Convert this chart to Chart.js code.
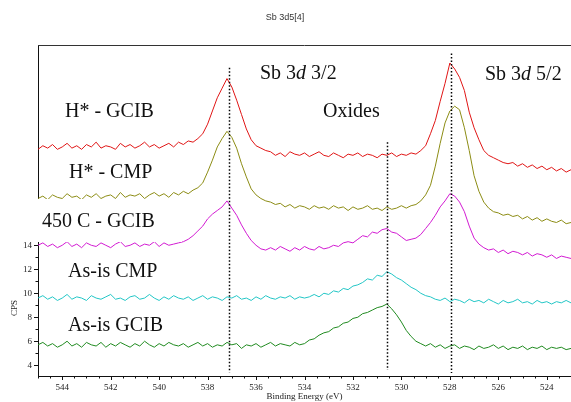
<!DOCTYPE html>
<html lang="en">
<head>
<meta charset="UTF-8">
<title>Sb 3d5[4]</title>
<script src="https://cdn.jsdelivr.net/npm/chart.js"></script>
<style>
  html, body { margin: 0; padding: 0; background: #fff; }
  canvas { display: block; }
</style>
</head>
<body>
<canvas id="xps" width="571" height="402"></canvas>
<script>
// binding energy grid (eV), 545 -> 523 in 0.2 eV steps
const energyStart = 545, energyStep = 0.2, nPoints = 111;
const energies = Array.from({ length: nPoints }, (_, i) => +(energyStart - energyStep * i).toFixed(1));

// counts (CPS, offset stacked as plotted)
const hGcib = [
  22.0, 22.3, 22.1, 22.4, 22.0, 22.2, 22.5, 22.1, 22.3, 22.0,
  22.4, 22.2, 22.6, 22.1, 22.3, 22.2, 22.0, 22.5, 22.2, 22.4,
  22.1, 22.3, 22.6, 22.2, 22.4, 22.1, 22.3, 22.5, 22.2, 22.6,
  22.4, 22.7, 22.6,
  22.9, 23.3, 24.1, 25.2, 26.3, 27.1, 27.9, 27.2, 26.1, 24.9, 23.7, 22.8, 22.3, 22.1, 21.9,
  21.8, 21.5, 21.7, 21.4, 21.8, 21.6, 21.5, 21.7, 21.4, 21.6, 21.8, 21.5, 21.4, 21.7,
  21.5, 21.3, 21.6, 21.5, 21.7, 21.4, 21.6, 21.5, 21.3, 21.6, 21.5, 21.7, 21.4, 21.6,
  21.5, 21.7, 21.6, 21.9, 22.3, 23.3, 24.4, 26.0, 27.5, 29.2, 28.7, 28.0, 26.9, 25.1,
  23.8, 22.8, 21.9, 21.5, 21.3, 21.1, 20.9, 20.8,
  20.9, 20.6, 20.8, 20.5, 20.7, 20.4, 20.6, 20.3, 20.5, 20.2, 20.4, 20.1, 20.3
];
const hCmp = [
  17.9, 18.1, 17.8, 18.2, 18.0, 17.9, 18.3, 18.0, 18.1, 17.8,
  18.2, 18.0, 18.3, 17.9, 18.1, 18.2, 17.9, 18.4, 18.0, 18.2,
  18.1, 18.3, 17.9, 18.2, 18.4, 18.1, 18.3, 18.0, 18.4, 18.2,
  18.5, 18.3, 18.6,
  18.8, 19.2, 20.1, 21.1, 22.2, 22.9, 23.5, 23.0, 22.1, 20.8, 19.7, 18.7, 18.2, 17.9, 17.7,
  17.6, 17.4, 17.5, 17.2, 17.4, 17.1, 17.3, 17.2, 17.0, 17.3, 17.1, 17.2, 17.0, 17.3,
  17.1, 17.2, 16.9, 17.2, 17.0, 17.1, 17.3, 17.0, 17.1, 16.9, 17.2, 17.0, 17.1, 17.3,
  17.1, 17.3, 17.4,
  17.7, 18.2, 19.0, 20.6, 22.5, 24.2, 25.2, 25.6, 25.3, 23.8, 21.9, 19.8, 18.5, 17.6, 17.1, 16.8,
  16.7, 16.5, 16.6, 16.4, 16.5, 16.2, 16.4, 16.1, 16.3, 16.0, 16.2, 16.0, 15.9, 16.1, 15.8, 15.9
];
const annealGcib = [
  14.0, 14.2, 13.9, 14.1, 13.8, 14.0, 14.3, 13.9, 14.1, 13.8,
  14.2, 14.0, 13.9, 14.2, 14.0, 13.8, 14.1, 14.3, 13.9, 14.0,
  14.2, 13.9, 14.1, 14.0, 14.3, 13.9, 14.2, 14.0, 14.1, 14.2,
  14.3, 14.5, 14.8, 15.2, 15.6, 16.2, 16.6, 16.9, 17.2, 17.7, 17.1, 16.5, 15.7, 15.0, 14.4, 14.0, 13.7, 13.6,
  13.8, 13.6, 13.9, 13.7, 13.5, 13.8, 13.6, 13.9, 13.7, 13.6, 13.9, 13.7, 13.8,
  14.0, 13.9, 14.2, 14.3, 14.2, 14.5,
  14.8, 14.7, 15.1, 15.0, 15.3, 15.4, 15.1, 15.0,
  14.7, 14.4, 14.5, 14.6, 14.9, 15.4, 15.9, 16.5, 17.2, 17.7, 18.3, 18.1, 17.6, 16.8, 15.6, 14.6, 14.1, 13.8,
  13.6, 13.7, 13.4, 13.6, 13.3, 13.5, 13.4, 13.2, 13.4, 13.1, 13.3, 13.2, 13.0, 13.2, 12.9, 13.1, 13.0, 12.9
];
const asisCmp = [
  9.6, 9.8, 9.5, 9.7, 9.4, 9.6, 9.9, 9.5, 9.7, 9.6,
  9.4, 9.8, 9.6, 9.5, 9.7, 9.9, 9.5, 9.6, 9.4, 9.7,
  9.8, 9.5, 9.6, 9.9, 9.6, 9.4, 9.7, 9.5, 9.8, 9.6,
  9.5, 9.7, 9.4, 9.6, 9.8, 9.5, 9.7, 9.6, 9.4, 9.7,
  9.6, 9.8, 9.5, 9.6, 9.4, 9.7, 9.5, 9.8, 9.6, 9.5,
  9.7, 9.6, 9.8, 9.5, 9.7, 9.6,
  9.7, 9.9, 9.7, 10.0, 9.9, 10.2, 10.1, 10.4, 10.3, 10.6, 10.7, 10.9, 11.2, 11.1,
  11.5, 11.4, 11.8, 11.6, 11.3, 11.1, 10.8, 10.5, 10.3, 10.0, 9.8, 9.7, 9.5,
  9.4, 9.6, 9.3, 9.5, 9.4, 9.2, 9.5, 9.3, 9.4, 9.2, 9.5, 9.3, 9.1, 9.4,
  9.2, 9.3, 9.5, 9.2, 9.3, 9.1, 9.4, 9.2, 9.3, 9.1, 9.3, 9.2, 9.4, 9.2
];
const asisGcib = [
  5.7, 5.9, 5.6, 5.8, 5.5, 5.7, 6.0, 5.6, 5.8, 5.5,
  5.9, 5.7, 5.6, 5.9, 5.5, 5.8, 5.6, 5.9, 5.7, 5.5,
  5.8, 5.6, 6.0, 5.7, 5.5, 5.8, 5.6, 5.9, 5.7, 5.6,
  5.8, 5.5, 5.7, 5.9, 5.6, 5.8, 5.5, 5.7, 5.6, 5.9,
  5.7, 5.8, 5.4, 5.7, 5.6, 5.8, 5.5, 5.7, 5.9, 5.6,
  5.8, 5.7, 5.6, 5.9, 5.7,
  5.8, 6.1, 6.2, 6.5, 6.7, 6.8, 7.1, 7.2, 7.5, 7.6, 7.9, 8.0, 8.3, 8.4, 8.6,
  8.8, 8.9, 9.1, 8.7, 8.2, 7.6, 6.9, 6.4, 6.0, 5.8,
  5.6, 5.8, 5.5, 5.7, 5.4, 5.6, 5.7, 5.4, 5.6, 5.5, 5.3, 5.6, 5.4, 5.5, 5.7, 5.4,
  5.6, 5.3, 5.5, 5.4, 5.6, 5.3, 5.5, 5.4, 5.6, 5.3, 5.5, 5.4, 5.5, 5.3, 5.4
];

// dotted reference lines: Sb 3d3/2, oxide, Sb 3d5/2
const peakEnergies = [537.1, 530.6, 527.95];
const peakTops = [28.8, 22.6, 30.0];
const peakBottoms = [3.4, 3.6, 3.35];

const xTickLabels = [544, 542, 540, 538, 536, 534, 532, 530, 528, 526, 524];
const yTickLabels = [4, 6, 8, 10, 12, 14];

function pts(values) {
  return values.map((v, i) => ({ x: energies[i], y: v }));
}

const serif = "'Liberation Serif', 'Times New Roman', serif";

// draws "Sb 3d 3/2" with an italic d
function sbLabel(ctx, x, y, j) {
  ctx.font = '20px ' + serif;
  ctx.fillText('Sb 3', x, y);
  x += ctx.measureText('Sb 3').width;
  ctx.font = 'italic 20px ' + serif;
  ctx.fillText('d', x, y);
  x += ctx.measureText('d').width;
  ctx.font = '20px ' + serif;
  ctx.fillText(' ' + j, x, y);
}

const overlay = {
  id: 'overlay',
  afterDatasetsDraw(chart) {
    const { ctx, chartArea: a, scales: { x, y } } = chart;
    ctx.save();
    ctx.lineWidth = 1;
    // top edge of the frame
    ctx.strokeStyle = '#333';
    ctx.beginPath();
    ctx.moveTo(a.left, Math.round(a.top) + 0.5);
    ctx.lineTo(a.right, Math.round(a.top) + 0.5);
    ctx.stroke();

    // tick marks
    ctx.strokeStyle = '#111';
    x.ticks.forEach(t => {
      if (t.value < 523 || t.value > 545) return;
      const px = Math.round(x.getPixelForValue(t.value)) + 0.5;
      const len = t.value % 2 === 0 ? 4 : 2.5;
      ctx.beginPath();
      ctx.moveTo(px, a.bottom);
      ctx.lineTo(px, a.bottom + len);
      ctx.stroke();
    });
    y.ticks.forEach(t => {
      if (!Number.isInteger(t.value) || t.value < 4 || t.value > 14) return;
      const py = Math.round(y.getPixelForValue(t.value)) + 0.5;
      const len = t.value % 2 === 0 ? 4 : 2.5;
      ctx.beginPath();
      ctx.moveTo(a.left, py);
      ctx.lineTo(a.left - len, py);
      ctx.stroke();
    });

    // dotted peak markers
    ctx.strokeStyle = '#000';
    ctx.lineWidth = 1.5;
    ctx.setLineDash([1.5, 2]);
    peakEnergies.forEach((e, i) => {
      const px = Math.round(x.getPixelForValue(e)) + 0.5;
      ctx.beginPath();
      ctx.moveTo(px, y.getPixelForValue(peakTops[i]));
      ctx.lineTo(px, y.getPixelForValue(peakBottoms[i]));
      ctx.stroke();
    });
    ctx.restore();
  },
  afterDraw(chart) {
    const { ctx } = chart;
    ctx.save();
    // white label box pasted over the axis
    ctx.fillStyle = '#fff';
    ctx.fillRect(22, 199, 160, 43);

    ctx.fillStyle = '#111';
    ctx.textBaseline = 'alphabetic';
    ctx.textAlign = 'left';
    ctx.font = '20px ' + serif;
    ctx.fillText('H* - GCIB', 65, 117);
    ctx.fillText('H* - CMP', 69, 178);
    ctx.fillText('450 C - GCIB', 42, 227);
    ctx.fillText('As-is CMP', 68, 277);
    ctx.fillText('As-is GCIB', 68, 331);
    ctx.fillText('Oxides', 323, 117);
    sbLabel(ctx, 260, 79, '3/2');
    sbLabel(ctx, 485, 80, '5/2');

    // plot title
    ctx.fillStyle = '#333';
    ctx.textAlign = 'center';
    ctx.font = "9px 'Liberation Sans', sans-serif";
    ctx.fillText('Sb 3d5[4]', 285, 20);

    // y axis title
    ctx.fillStyle = '#222';
    ctx.font = '9px ' + serif;
    ctx.translate(15, 308);
    ctx.rotate(-Math.PI / 2);
    ctx.textBaseline = 'middle';
    ctx.fillText('CPS', 0, 0);
    ctx.restore();
  }
};

Chart.defaults.color = '#222';

new Chart(document.getElementById('xps').getContext('2d'), {
  type: 'line',
  data: {
    datasets: [
      { label: 'H* - GCIB', data: pts(hGcib), borderColor: '#e01515' },
      { label: 'H* - CMP', data: pts(hCmp), borderColor: '#8c8c14' },
      { label: '450 C - GCIB', data: pts(annealGcib), borderColor: '#d21ad2' },
      { label: 'As-is CMP', data: pts(asisCmp), borderColor: '#22c6c6' },
      { label: 'As-is GCIB', data: pts(asisGcib), borderColor: '#1f8a1f' }
    ]
  },
  options: {
    responsive: false,
    animation: false,
    events: [],
    layout: { padding: { top: 45, right: 0, left: 0, bottom: 0 } },
    elements: {
      line: { borderWidth: 1, tension: 0, fill: false },
      point: { radius: 0 }
    },
    plugins: {
      legend: { display: false },
      tooltip: { enabled: false },
      title: { display: false }
    },
    scales: {
      x: {
        type: 'linear',
        reverse: true,
        min: 523,
        max: 545,
        grid: { display: false, drawTicks: false },
        border: { display: true, color: '#111', width: 1 },
        ticks: {
          stepSize: 0.5,
          autoSkip: false,
          maxRotation: 0,
          padding: 6,
          font: { family: serif, size: 9 },
          callback: v => xTickLabels.includes(v) ? String(v) : ''
        },
        title: {
          display: true,
          text: 'Binding Energy (eV)',
          font: { family: serif, size: 9 },
          padding: { top: 0, bottom: 0 }
        },
        afterFit: s => { s.height = 26; s.paddingLeft = 0; s.paddingRight = 0; }
      },
      y: {
        min: 3.1,
        max: 30.7,
        grid: { display: false, drawTicks: false },
        border: { display: true, color: '#111', width: 1 },
        ticks: {
          stepSize: 1,
          autoSkip: false,
          padding: 6,
          font: { family: serif, size: 9 },
          callback: v => yTickLabels.includes(v) ? String(v) : ''
        },
        afterFit: s => { s.width = 38; s.paddingTop = 0; s.paddingBottom = 0; }
      }
    }
  },
  plugins: [overlay]
});
</script>
</body>
</html>
